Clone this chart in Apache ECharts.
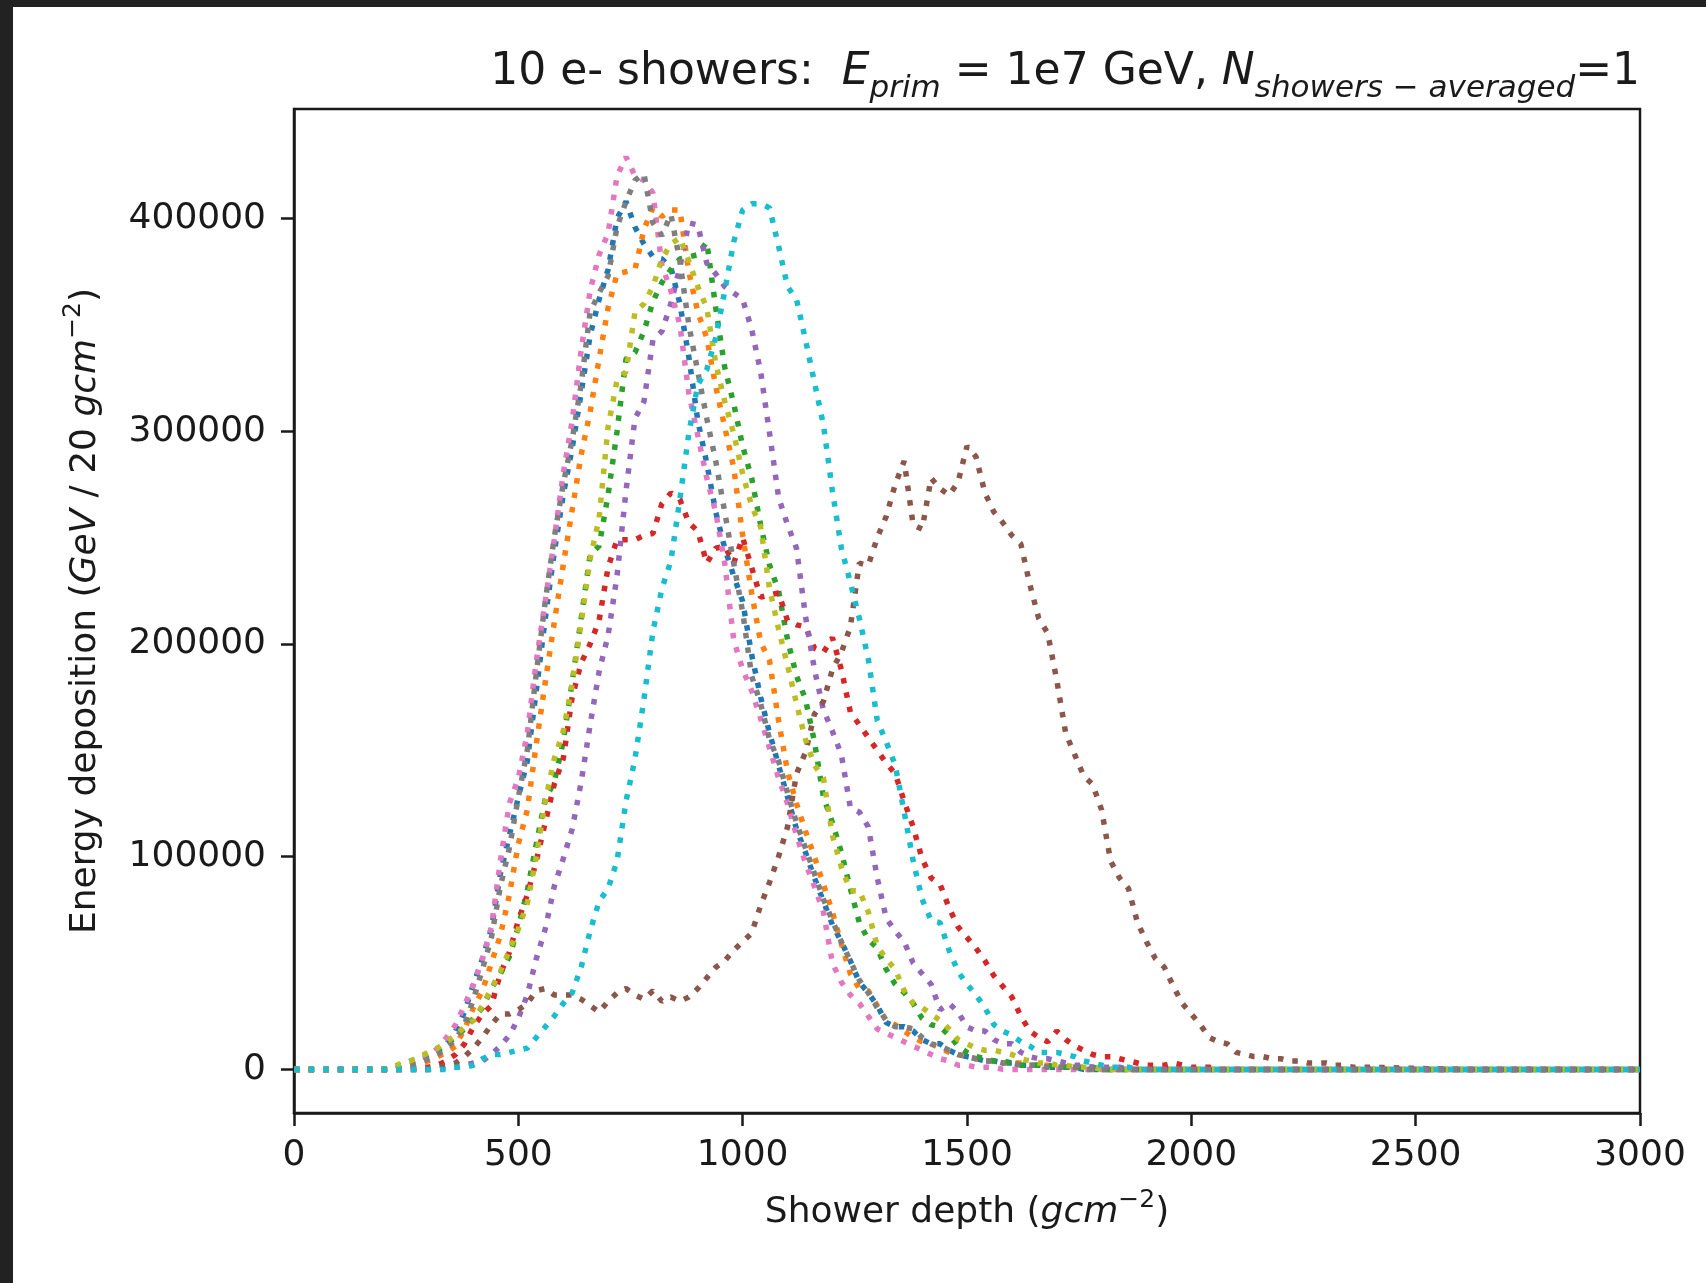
<!DOCTYPE html>
<html>
<head>
<meta charset="utf-8">
<title>10 e- showers</title>
<script src="https://cdn.jsdelivr.net/npm/echarts@6.0.0/dist/echarts.min.js"></script>
<style>
  html, body { margin: 0; padding: 0; background: #222; }
  #sheet { position: absolute; left: 13px; top: 7px; right: 0; bottom: 0; background: #fff; }
  #chart { position: absolute; left: 0; top: 0; width: 1706px; height: 1283px; }
</style>
</head>
<body>
<div id="sheet"></div>
<div id="chart"></div>
<script>
// shower depth bins (g/cm^2)
const depth = [
  0, 50, 100, 150, 200,
  220, 240, 260, 280, 300, 320, 340, 360, 380, 400,
  420, 440, 460, 480, 500, 520, 540, 560, 580, 600,
  620, 640, 660, 680, 700, 720, 740, 760, 780, 800,
  820, 840, 860, 880, 900, 920, 940, 960, 980, 1000,
  1020, 1040, 1060, 1080, 1100, 1120, 1140, 1160, 1180, 1200,
  1220, 1240, 1260, 1280, 1300, 1320, 1340, 1360, 1380, 1400,
  1420, 1440, 1460, 1480, 1500, 1520, 1540, 1560, 1580, 1600,
  1620, 1640, 1660, 1680, 1700, 1720, 1740, 1760, 1780, 1800,
  1820, 1840, 1860, 1880, 1900, 1920, 1940, 1960, 1980, 2000,
  2020, 2040, 2060, 2080, 2100, 2120, 2140, 2160, 2180, 2200,
  2220, 2240, 2260, 2280, 2300, 2320, 2340, 2360, 2380, 2400,
  2600, 2800, 3000
];

// energy deposition per shower, read in units of 1e3 GeV
const KGEV = 1000;

const blue = [
  0, 0, 0, 0, 0,
  0, 1, 2, 4, 6, 8, 12, 18, 27, 40,
  52, 66, 92, 110, 128, 145, 178, 212, 243, 270,
  292, 318, 345, 362, 376, 400, 408, 396, 388, 382,
  381, 377, 360, 335, 305, 285, 262, 245, 232, 220,
  195, 175, 158, 143, 128, 113, 102, 90, 79, 68,
  60, 51, 41, 36, 30, 22, 20, 20, 18, 14,
  12, 12, 9, 7, 6, 5, 4, 4, 3, 3,
  2, 2, 2, 1, 1, 1, 1, 0, 0, 0,
  0, 0, 0, 0, 0, 0, 0, 0, 0, 0,
  0, 0, 0, 0, 0, 0, 0, 0, 0, 0,
  0, 0, 0, 0, 0, 0, 0, 0, 0, 0,
  0, 0, 0
];

const orange = [
  0, 0, 0, 0, 0,
  0, 1, 2, 3, 4, 6, 8, 11, 19, 29,
  37, 50, 63, 82, 106, 122, 153, 182, 210, 237,
  263, 289, 309, 334, 358, 374, 375, 376, 395, 405,
  401, 404, 404, 375, 356, 344, 321, 302, 283, 251,
  224, 201, 192, 164, 140, 125, 112, 100, 87, 74,
  59, 45, 38, 37, 30, 23, 21, 18, 15, 13,
  12, 10, 8, 7, 6, 5, 4, 4, 3, 3,
  3, 2, 2, 2, 1, 1, 1, 1, 0, 0,
  0, 0, 0, 0, 0, 0, 0, 0, 0, 0,
  0, 0, 0, 0, 0, 0, 0, 0, 0, 0,
  0, 0, 0, 0, 0, 0, 0, 0, 0, 0,
  0, 0, 0
];

const green = [
  0, 0, 0, 0, 0,
  1, 2, 4, 5, 7, 9, 12, 15, 19, 24,
  29, 38, 45, 53, 67, 84, 106, 127, 135, 154,
  182, 212, 242, 246, 270, 300, 334, 337, 347, 361,
  370, 376, 381, 382, 383, 389, 358, 330, 313, 293,
  278, 256, 237, 225, 202, 185, 174, 154, 128, 116,
  102, 85, 69, 61, 57, 47, 40, 36, 31, 24,
  21, 20, 16, 11, 8, 6, 5, 4, 4, 3,
  2, 2, 2, 2, 1, 1, 1, 1, 1, 0,
  0, 0, 0, 0, 0, 0, 0, 0, 0, 0,
  0, 0, 0, 0, 0, 0, 0, 0, 0, 0,
  0, 0, 0, 0, 0, 0, 0, 0, 0, 0,
  0, 0, 0
];

const red = [
  0, 0, 0, 0, 0,
  0, 0, 0, 1, 1, 2, 4, 7, 12, 20,
  26, 30, 45, 55, 70, 82, 98, 116, 134, 146,
  175, 191, 200, 211, 236, 249, 249, 249, 251, 252,
  266, 271, 268, 257, 253, 238, 245, 246, 238, 250,
  236, 222, 223, 224, 211, 209, 208, 198, 196, 203,
  188, 168, 162, 156, 150, 144, 139, 126, 114, 99,
  90, 87, 76, 67, 62, 57, 51, 44, 39, 34,
  25, 18, 15, 13, 18, 14, 11, 9, 7, 6,
  6, 5, 4, 3, 2, 2, 2, 3, 2, 1,
  1, 1, 0, 0, 0, 0, 0, 0, 0, 0,
  0, 0, 0, 0, 0, 0, 0, 0, 0, 0,
  0, 0, 0
];

const purple = [
  0, 0, 0, 0, 0,
  0, 0, 0, 0, 0, 0, 1, 1, 2, 3,
  4, 7, 11, 16, 24, 35, 52, 66, 86, 99,
  113, 135, 162, 187, 204, 232, 272, 306, 314, 343,
  347, 360, 377, 398, 397, 379, 374, 368, 365, 362,
  348, 328, 299, 269, 256, 245, 213, 188, 169, 159,
  148, 123, 121, 114, 90, 71, 65, 60, 50, 45,
  40, 28, 31, 27, 20, 18, 18, 14, 12, 12,
  8, 6, 5, 5, 4, 3, 2, 2, 1, 1,
  1, 1, 0, 0, 0, 0, 0, 0, 0, 0,
  0, 0, 0, 0, 0, 0, 0, 0, 0, 0,
  0, 0, 0, 0, 0, 0, 0, 0, 0, 0,
  0, 0, 0
];

const brown = [
  0, 0, 0, 0, 0,
  0, 0, 0, 0, 0, 1, 2, 3, 6, 10,
  15, 21, 26, 26, 28, 31, 37, 38, 35, 35,
  35, 33, 30, 27, 32, 36, 38, 35, 33, 37,
  32, 34, 32, 34, 38, 43, 48, 51, 56, 60,
  64, 77, 88, 100, 114, 139, 149, 167, 173, 188,
  196, 208, 238, 237, 250, 260, 275, 286, 256, 254,
  278, 273, 270, 276, 293, 288, 271, 262, 257, 251,
  247, 228, 212, 205, 183, 158, 148, 138, 134, 122,
  98, 90, 85, 69, 60, 52, 48, 39, 31, 26,
  21, 15, 13, 12, 8, 7, 6, 6, 5, 5,
  4, 4, 3, 3, 3, 2, 2, 1, 1, 1,
  0, 0, 0
];

const pink = [
  0, 0, 0, 0, 0,
  0, 1, 2, 3, 6, 10, 15, 21, 30, 40,
  52, 67, 98, 125, 137, 158, 192, 220, 249, 280,
  305, 338, 366, 383, 393, 420, 429, 420, 418, 412,
  378, 366, 350, 318, 298, 278, 262, 238, 202, 188,
  178, 165, 151, 137, 125, 110, 97, 86, 74, 50,
  41, 35, 31, 25, 19, 17, 15, 13, 11, 9,
  7, 5, 4, 2, 2, 1, 1, 1, 0, 0,
  0, 0, 0, 0, 0, 0, 0, 0, 0, 0,
  0, 0, 0, 0, 0, 0, 0, 0, 0, 0,
  0, 0, 0, 0, 0, 0, 0, 0, 0, 0,
  0, 0, 0, 0, 0, 0, 0, 0, 0, 0,
  0, 0, 0
];

const gray = [
  0, 0, 0, 0, 0,
  0, 1, 2, 3, 5, 7, 10, 14, 21, 33,
  47, 62, 86, 104, 128, 150, 186, 220, 250, 275,
  296, 322, 356, 365, 373, 396, 408, 418, 421, 398,
  392, 402, 380, 350, 328, 306, 286, 262, 238, 215,
  185, 172, 155, 145, 130, 116, 104, 92, 80, 70,
  60, 51, 42, 36, 29, 23, 20, 20, 19, 15,
  12, 11, 9, 7, 6, 5, 4, 4, 3, 3,
  2, 2, 2, 1, 1, 1, 1, 0, 0, 0,
  0, 0, 0, 0, 0, 0, 0, 0, 0, 0,
  0, 0, 0, 0, 0, 0, 0, 0, 0, 0,
  0, 0, 0, 0, 0, 0, 0, 0, 0, 0,
  0, 0, 0
];

const olive = [
  0, 0, 0, 0, 0,
  1, 3, 4, 6, 8, 10, 13, 16, 20, 23,
  30, 38, 46, 56, 66, 78, 100, 126, 146, 159,
  181, 210, 240, 259, 302, 324, 328, 356, 360, 368,
  381, 388, 391, 380, 368, 358, 332, 314, 299, 280,
  265, 255, 226, 207, 190, 172, 155, 143, 137, 110,
  95, 84, 84, 74, 58, 52, 47, 37, 31, 29,
  26, 23, 19, 14, 12, 10, 9, 9, 8, 7,
  5, 4, 3, 3, 2, 2, 1, 1, 1, 0,
  0, 0, 0, 0, 0, 0, 0, 0, 0, 0,
  0, 0, 0, 0, 0, 0, 0, 0, 0, 0,
  0, 0, 0, 0, 0, 0, 0, 0, 0, 0,
  0, 0, 0
];

const cyan = [
  0, 0, 0, 0, 0,
  0, 0, 0, 0, 0, 0, 0, 1, 1, 2,
  5, 7, 7, 8, 9, 10, 15, 20, 25, 31,
  36, 48, 65, 79, 85, 98, 126, 146, 174, 206,
  226, 239, 268, 299, 322, 329, 344, 366, 389, 404,
  407, 407, 405, 387, 368, 362, 343, 323, 303, 272,
  245, 229, 212, 193, 164, 154, 143, 121, 98, 80,
  70, 69, 56, 46, 40, 35, 29, 21, 18, 16,
  13, 11, 8, 8, 8, 7, 6, 4, 3, 2,
  1, 1, 1, 0, 0, 0, 0, 0, 0, 0,
  0, 0, 0, 0, 0, 0, 0, 0, 0, 0,
  0, 0, 0, 0, 0, 0, 0, 0, 0, 0,
  0, 0, 0
];

const showers = [blue, orange, green, red, purple, brown, pink, gray, olive, cyan];
const colors = ["#1f77b4", "#ff7f0e", "#2ca02c", "#d62728", "#9467bd",
                "#8c564b", "#e377c2", "#7f7f7f", "#bcbd22", "#17becf"];

const xTicks = [0, 500, 1000, 1500, 2000, 2500, 3000];
const yTicks = [0, 100000, 200000, 300000, 400000];

const FONT = "DejaVu Sans";
const INK = "#1a1a1a";

const chart = echarts.init(document.getElementById("chart"));

const axisName = {
  fontFamily: FONT,
  fontSize: 36,
  color: INK,
  lineHeight: 50,
  rich: {
    n: { fontFamily: FONT, fontSize: 36, color: INK, lineHeight: 50 },
    it: { fontFamily: FONT, fontSize: 36, color: INK, fontStyle: "italic", lineHeight: 50 },
    sup: { fontFamily: FONT, fontSize: 25, color: INK, lineHeight: 25, verticalAlign: "top" },
  },
};

chart.setOption({
  animation: false,
  title: {
    text: "10 e- showers:  {it|E}{sub|prim}{n| = 1e7 GeV, }{it|N}{sub|showers − averaged}{n|=1}",
    right: 66,
    top: 42,
    padding: 0,
    textStyle: {
      fontFamily: FONT,
      fontSize: 44,
      fontWeight: "normal",
      color: INK,
      lineHeight: 62,
      rich: {
        n: { fontFamily: FONT, fontSize: 44, color: INK, lineHeight: 62 },
        it: { fontFamily: FONT, fontSize: 44, color: INK, fontStyle: "italic", lineHeight: 62 },
        sub: { fontFamily: FONT, fontSize: 31, color: INK, fontStyle: "italic", lineHeight: 31, verticalAlign: "bottom" },
      },
    },
  },
  grid: {
    left: 294,
    top: 109,
    width: 1346,
    height: 1004,
    show: true,
    borderColor: INK,
    borderWidth: 2.5,
    backgroundColor: "transparent",
    outerBoundsMode: "none",
  },
  xAxis: {
    type: "value",
    min: 0,
    max: 3000,
    interval: 500,
    name: "Shower depth ({it|gcm}{sup|−2})",
    nameLocation: "middle",
    nameGap: 75,
    nameTextStyle: axisName,
    axisLine: { show: true, onZero: false, lineStyle: { color: INK, width: 2.5 } },
    axisTick: { show: true, inside: false, length: 13, customValues: xTicks, lineStyle: { color: INK, width: 2.5 } },
    axisLabel: {
      customValues: xTicks,
      margin: 25,
      fontFamily: FONT,
      fontSize: 36,
      lineHeight: 36,
      color: INK,
      formatter: (v) => String(v),
    },
    splitLine: { show: false },
  },
  yAxis: {
    type: "value",
    min: -20500,
    max: 451500,
    name: "Energy deposition ({it|GeV} / 20 {it|gcm}{sup|−2})",
    nameLocation: "middle",
    nameRotate: 90,
    nameGap: 183,
    nameTextStyle: axisName,
    axisLine: { show: true, onZero: false, lineStyle: { color: INK, width: 2.5 } },
    axisTick: { show: true, inside: false, length: 13, customValues: yTicks, lineStyle: { color: INK, width: 2.5 } },
    axisLabel: {
      customValues: yTicks,
      margin: 28,
      fontFamily: FONT,
      fontSize: 36,
      color: INK,
      formatter: (v) => String(v),
    },
    splitLine: { show: false },
  },
  series: showers.map((vals, i) => ({
    type: "line",
    symbol: "none",
    showSymbol: false,
    silent: true,
    emphasis: { disabled: true },
    data: depth.map((d, j) => [d, vals[j] * KGEV]),
    lineStyle: { color: colors[i], width: 5.5, type: [5.5, 9.1], cap: "butt" },
  })),
});
</script>
</body>
</html>
